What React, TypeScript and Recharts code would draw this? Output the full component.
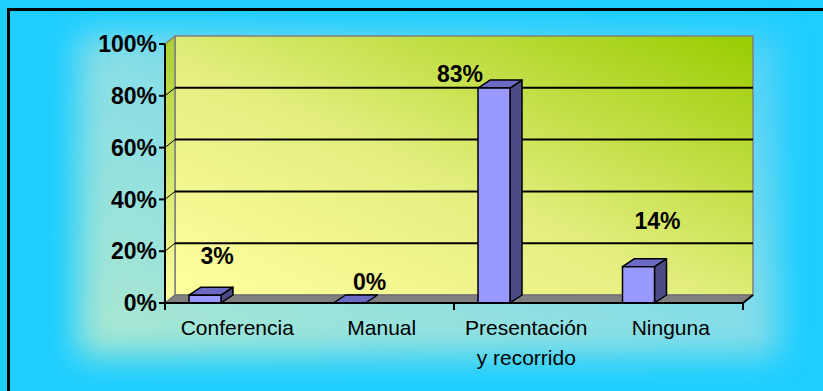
import React from 'react';
import { BarChart, Bar, XAxis, YAxis, CartesianGrid, LabelList } from 'recharts';

// ---- data ----
const categories = ['Conferencia', 'Manual', 'Presentación\ny recorrido', 'Ninguna'];
const percentages = [0.03, 0, 0.83, 0.14];
const valueLabels = ['3%', '0%', '83%', '14%'];
const yTicks = [0, 0.2, 0.4, 0.6, 0.8, 1];

const data = categories.map((name, i) => ({ name, value: percentages[i], label: valueLabels[i] }));

// ---- layout / style constants ----
const W = 823;
const H = 391;
const PL = 165; // plot left (front plane)
const PR = 743; // plot right (front plane)
const PT = 44; // plot top (front plane)
const PB = 303; // plot bottom (front plane)
const YAXIS_W = 60;
const XAXIS_H = 60;
const DX = 10; // wall depth
const DY = 8;
const BAR_DX = 12;
const BAR_DY = 8;
const BAR_SHIFT = -32;
const BAND = (PR - PL) / categories.length;
const FONT = '"Liberation Sans", Arial, sans-serif';
const labelNudge = [
  [12, -39],
  [20, -21],
  [-34, -14],
  [19, -46],
];

const Bar3D = (props: any) => {
  const { x, y, width, height } = props;
  if (x == null || y == null) return null;
  const fx = x + BAR_SHIFT;
  const top = y;
  const bot = y + (height || 0);
  const w = width;
  return (
    <g>
      {height > 0 && (
        <polygon
          points={`${fx + w},${top} ${fx + w + BAR_DX},${top - BAR_DY} ${fx + w + BAR_DX},${bot - BAR_DY} ${fx + w},${bot}`}
          fill="#4B4B86"
          stroke="#000"
          strokeWidth={1.5}
          strokeLinejoin="round"
        />
      )}
      <polygon
        points={`${fx},${top} ${fx + BAR_DX},${top - BAR_DY} ${fx + w + BAR_DX},${top - BAR_DY} ${fx + w},${top}`}
        fill="#6B6BC4"
        stroke="#000"
        strokeWidth={1.5}
        strokeLinejoin="round"
      />
      {height > 0 && (
        <rect x={fx} y={top} width={w} height={bot - top} fill="#9999FF" stroke="#000" strokeWidth={1.5} />
      )}
    </g>
  );
};

const ValueLabel = (props: any) => {
  const { x, y, width, value, index } = props;
  if (x == null) return null;
  const n = labelNudge[index] || [0, -15];
  const cx = x + BAR_SHIFT + width / 2 + n[0];
  const cy = y + n[1];
  return (
    <text
      x={cx}
      y={cy}
      dy="0.355em"
      textAnchor="middle"
      fontFamily={FONT}
      fontSize={23}
      fontWeight="bold"
      fill="#000"
    >
      {value}
    </text>
  );
};

const XTick = (props: any) => {
  const { x, payload, index } = props;
  const lines = String(payload.value).split('\n');
  return (
    <g>
      {(index === 0 || index === 2) && (
        <line x1={x - BAND / 2} y1={PB} x2={x - BAND / 2} y2={PB + 7} stroke="#000" strokeWidth={2} />
      )}
      {index === categories.length - 1 && (
        <line x1={x + BAND / 2} y1={PB} x2={x + BAND / 2} y2={PB + 7} stroke="#000" strokeWidth={2} />
      )}
      <text x={x} y={PB} textAnchor="middle" fontFamily={FONT} fontSize={21} fill="#000">
        {lines.map((l, i) => (
          <tspan key={i} x={x} dy={i === 0 ? 32 : 30}>
            {l}
          </tspan>
        ))}
      </text>
    </g>
  );
};

const gridLine = (p: any) => {
  const { x1, y1, x2 } = p;
  if (Math.abs(y1 - PT) < 1 || Math.abs(y1 - PB) < 1) return <g key={p.key} />;
  return (
    <g key={p.key}>
      <line x1={x1} y1={y1} x2={x1 + DX} y2={y1 - DY} stroke="#000" strokeWidth={1} />
      <line x1={x1 + DX} y1={y1 - DY} x2={x2 + DX} y2={y1 - DY} stroke="#000" strokeWidth={2} />
    </g>
  );
};

const Background = () => (
  <svg width={W} height={H} style={{ position: 'absolute', left: 0, top: 0 }}>
    <defs>
      <linearGradient id="wallGrad" x1="0" y1="1" x2="1" y2="0">
        <stop offset="0%" stopColor="#FFFF9E" />
        <stop offset="45%" stopColor="#E4EE80" />
        <stop offset="100%" stopColor="#99CC00" />
      </linearGradient>
      <linearGradient id="sideGrad" x1="0" y1="1" x2="0" y2="0">
        <stop offset="0%" stopColor="#FFFF9E" />
        <stop offset="100%" stopColor="#A8D030" />
      </linearGradient>
      <linearGradient id="glowGrad" x1="0" y1="1" x2="1" y2="0">
        <stop offset="0%" stopColor="#D0EEC4" />
        <stop offset="55%" stopColor="#9EE0E4" />
        <stop offset="100%" stopColor="#5CD2F6" />
      </linearGradient>
      <filter id="blur" x="-20%" y="-20%" width="140%" height="140%">
        <feGaussianBlur stdDeviation="16" />
      </filter>
    </defs>
    <rect x={0} y={0} width={W} height={H} fill="#1ECEFF" />
    <rect x={78} y={34} width={700} height={322} fill="url(#glowGrad)" opacity={0.8} filter="url(#blur)" />
    {/* back wall */}
    <polygon
      points={`${PL + DX},${PT - DY} ${PR + DX},${PT - DY} ${PR + DX},${PB - DY} ${PL + DX},${PB - DY}`}
      fill="url(#wallGrad)"
      stroke="#808080"
      strokeWidth={1.5}
    />
    {/* left wall */}
    <polygon
      points={`${PL},${PT} ${PL + DX},${PT - DY} ${PL + DX},${PB - DY} ${PL},${PB}`}
      fill="url(#sideGrad)"
      stroke="#808080"
      strokeWidth={1.5}
    />
    {/* floor */}
    <polygon
      points={`${PL},${PB} ${PL + DX},${PB - DY} ${PR + DX},${PB - DY} ${PR},${PB}`}
      fill="#808080"
      stroke="#6a6a6a"
      strokeWidth={1}
    />
    <line x1={PR} y1={PB} x2={PR + DX} y2={PB - DY} stroke="#000" strokeWidth={2} />
    {/* outer frame (only top and left edges fall inside the picture) */}
    <path d={`M8.5,${H} V9.5 H${W}`} fill="none" stroke="#000" strokeWidth={3} />
  </svg>
);

export default function App() {
  return (
    <div style={{ position: 'absolute', left: 0, top: 0, width: W, height: H, overflow: 'hidden' }}>
      <Background />
      <div style={{ position: 'absolute', left: 0, top: 0 }}>
        <BarChart
          width={W}
          height={H}
          data={data}
          margin={{ top: PT, right: W - PR, bottom: H - PB - XAXIS_H, left: PL - YAXIS_W }}
          style={{ fontFamily: FONT }}
        >
          <CartesianGrid vertical={false} horizontal={gridLine} />
          <XAxis
            dataKey="name"
            interval={0}
            height={XAXIS_H}
            tickLine={false}
            axisLine={{ stroke: '#000', strokeWidth: 2 }}
            tick={<XTick />}
          />
          <YAxis
            width={YAXIS_W}
            domain={[0, 1]}
            ticks={yTicks}
            interval={0}
            tickFormatter={(v: number) => `${Math.round(v * 100)}%`}
            axisLine={{ stroke: '#000', strokeWidth: 2 }}
            tickLine={{ stroke: '#000', strokeWidth: 2 }}
            tickSize={6}
            tick={{ fontSize: 23, fontWeight: 'bold', fill: '#000', fontFamily: FONT }}
          />
          <Bar dataKey="value" barSize={32} isAnimationActive={false} shape={<Bar3D />}>
            <LabelList dataKey="label" content={<ValueLabel />} />
          </Bar>
        </BarChart>
      </div>
    </div>
  );
}
